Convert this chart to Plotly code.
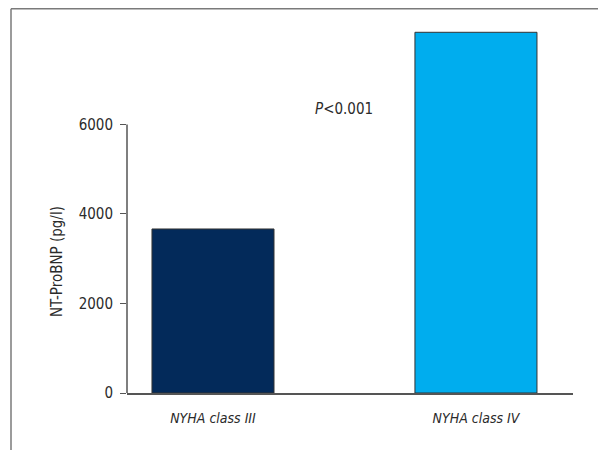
import plotly.graph_objects as go

categories = ["NYHA class III", "NYHA class IV"]
values = [3665, 8060]
bar_colors = ["#032a5a", "#00adee"]
y_tickvals = [0, 2000, 4000, 6000]
y_ticktext = ["0", "2000", "4000", "6000"]
y_title = "NT-ProBNP (pg/l)"
p_text = "<i>P</i>&lt;0.001"

# page body adds an 8px offset, so the figure is sized to fit the window
W, H = 598, 442
ML, MR, MT, MB = 119, 33, 17, 57
pw, ph = W - ML - MR, H - MT - MB

def px_x(px):
    return (px - ML) / pw

def px_y(py):
    return (H - MB - py) / ph

FONT = "Liberation Sans Narrow, DejaVu Sans Condensed, Arial Narrow, sans-serif"
TXT = "#2b2b2b"
AX = "#555555"

fig = go.Figure()
fig.add_trace(go.Bar(
    x=[0, 1], y=values,
    marker=dict(color=bar_colors, line=dict(color="#333333", width=1)),
    width=0.464,
    hoverinfo="skip",
))

fig.update_layout(
    width=W, height=H,
    margin=dict(l=ML, r=MR, t=MT, b=MB),
    paper_bgcolor="white", plot_bgcolor="white",
    showlegend=False,
    font=dict(family=FONT, color=TXT, size=15),
    xaxis=dict(
        range=[-0.327, 1.369],
        tickvals=[0, 1],
        ticktext=["<i>%s</i>" % c for c in categories],
        showline=True, linecolor=AX, linewidth=1.5,
        ticks="", showgrid=False, zeroline=False,
        tickfont=dict(size=14),
        ticklabelstandoff=11,
    ),
    yaxis=dict(
        range=[0, 8223],
        tickvals=y_tickvals, ticktext=y_ticktext,
        showline=False, showgrid=False, zeroline=False,
        ticks="outside", ticklen=6, tickwidth=1.2, tickcolor=AX,
        tickfont=dict(size=15),
        ticklabelstandoff=4,
    ),
    shapes=[
        dict(type="line", xref="paper", yref="y", x0=0, x1=0, y0=0, y1=6000,
             line=dict(color=AX, width=1.5)),
        dict(type="line", xref="paper", yref="paper",
             x0=px_x(3), x1=px_x(W), y0=px_y(0.75), y1=px_y(0.75),
             line=dict(color="#7a7a7a", width=1.5)),
        dict(type="line", xref="paper", yref="paper",
             x0=px_x(3), x1=px_x(3), y0=px_y(0.75), y1=px_y(H),
             line=dict(color="#7a7a7a", width=1.5)),
    ],
    annotations=[
        dict(text=p_text, x=0.5, y=6350, xref="x", yref="y",
             showarrow=False, font=dict(size=15, color=TXT)),
        dict(text=y_title, x=px_x(49), y=px_y(254), xref="paper", yref="paper",
             textangle=-90, showarrow=False, xanchor="center", yanchor="middle",
             font=dict(size=15, color=TXT)),
    ],
)

fig.write_html("out.html")
